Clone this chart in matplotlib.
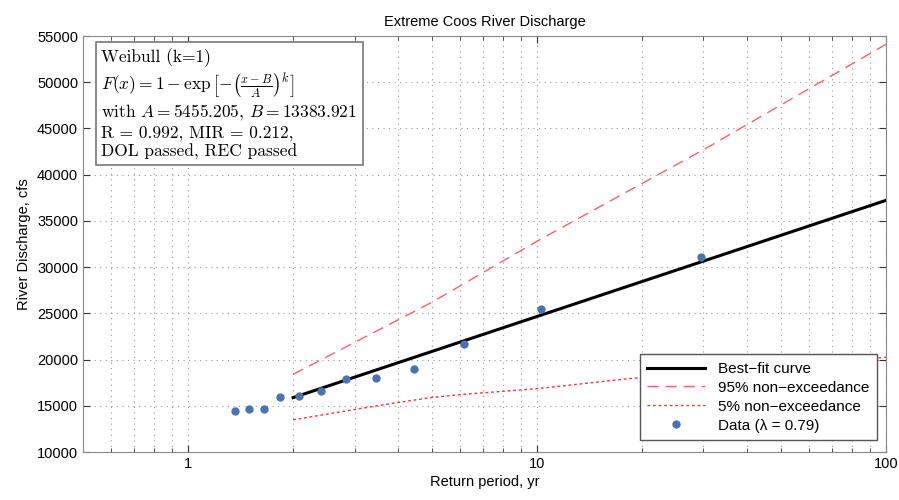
import numpy as np
import matplotlib
matplotlib.use("Agg")
import matplotlib.pyplot as plt
from matplotlib.ticker import LogLocator, FixedLocator, NullFormatter

plt.rcParams['font.family'] = ['Liberation Sans', 'DejaVu Sans']
plt.rcParams['mathtext.fontset'] = 'cm'

# observed peak discharges, return period (yr) vs flow (cfs)
return_period = [1.36, 1.50, 1.65, 1.84, 2.08, 2.40, 2.84, 3.46, 4.45, 6.19, 10.25, 29.6]
discharge = [14450, 14650, 14650, 15950, 16100, 16600, 17900, 18050, 19000, 21700, 25450, 31100]

# fitted curve
fit_T = [2, 100]
fit_Q = [15880, 37220]

# upper bound (95% non-exceedance)
upper_T = [2, 5, 10, 30, 100]
upper_Q = [18400, 26200, 32800, 42700, 54100]

# lower bound (5% non-exceedance)
lower_T = [2, 3, 4, 5, 6, 7, 10, 18.3, 100]
lower_Q = [13480, 14600, 15360, 15900, 16200, 16400, 16850, 17930, 20250]

y_ticks = list(range(10000, 55001, 5000))

fig = plt.figure(figsize=(8.99, 5.0), dpi=100)
ax = fig.add_axes([0.0923, 0.096, 0.8932, 0.832])

ax.plot(fit_T, fit_Q, color='black', lw=2.2, label='Best\u2212fit curve', zorder=3)
ax.plot(upper_T, upper_Q, color='#ff6060', lw=1.0, dashes=(8, 5),
        label='95% non\u2212exceedance', zorder=2)
ax.plot(lower_T, lower_Q, color='#ff3030', lw=1.0, dashes=(2, 2),
        label='5% non\u2212exceedance', zorder=2)
ax.plot(return_period, discharge, 'o', color='#4a74b0', markersize=6,
        markeredgewidth=0, label='Data (\u03bb = 0.79)', zorder=4)

ax.set_xscale('log')
ax.set_xlim(0.5, 100)
ax.set_ylim(10000, 55000)
ax.xaxis.set_major_locator(FixedLocator([1, 10, 100]))
ax.set_xticklabels(['1', '10', '100'])
ax.xaxis.set_minor_locator(LogLocator(base=10, subs=np.arange(2, 10)))
ax.xaxis.set_minor_formatter(NullFormatter())
ax.set_yticks(y_ticks)
ax.set_yticklabels([str(v) for v in y_ticks])

ax.grid(True, which='major', axis='both', color='#999999', linestyle=(0, (1, 4)), lw=0.8)
ax.grid(True, which='minor', axis='x', color='#999999', linestyle=(0, (1, 4)), lw=0.8)
ax.tick_params(which='both', direction='in', top=True, right=True,
               colors='#333333', labelcolor='black', labelsize=10.5)
ax.tick_params(which='major', length=5)
ax.tick_params(which='minor', length=3)
for s in ax.spines.values():
    s.set_color('#888888')

ax.set_title('Extreme Coos River Discharge', fontsize=10.5, pad=7)
ax.set_xlabel('Return period, yr', fontsize=10.5, labelpad=3)
ax.set_ylabel('River Discharge, cfs', fontsize=10.5, labelpad=4)

info = ("Weibull (k=1)\n"
        r"$F(x) = 1 - \exp\left[-\left(\frac{x-B}{A}\right)^k\right]$" "\n"
        r"with $A = 5455.205$, $B = 13383.921$" "\n"
        "R = 0.992, MIR = 0.212,\n"
        "DOL passed, REC passed")
ax.text(0.023, 0.97, info, transform=ax.transAxes, va='top', ha='left',
        fontsize=12.5, family='cmr10', linespacing=1.22,
        bbox=dict(boxstyle='square,pad=0.3', facecolor='white', edgecolor='#777777', lw=1.2),
        zorder=5)

leg = ax.legend(loc='lower right', fontsize=11, fancybox=False, framealpha=1,
                edgecolor='#555555', handlelength=3.8, borderpad=0.5,
                labelspacing=0.32, bbox_to_anchor=(0.998, 0.01))
leg.get_frame().set_linewidth(1.0)

fig.savefig('out.png', dpi=100)
